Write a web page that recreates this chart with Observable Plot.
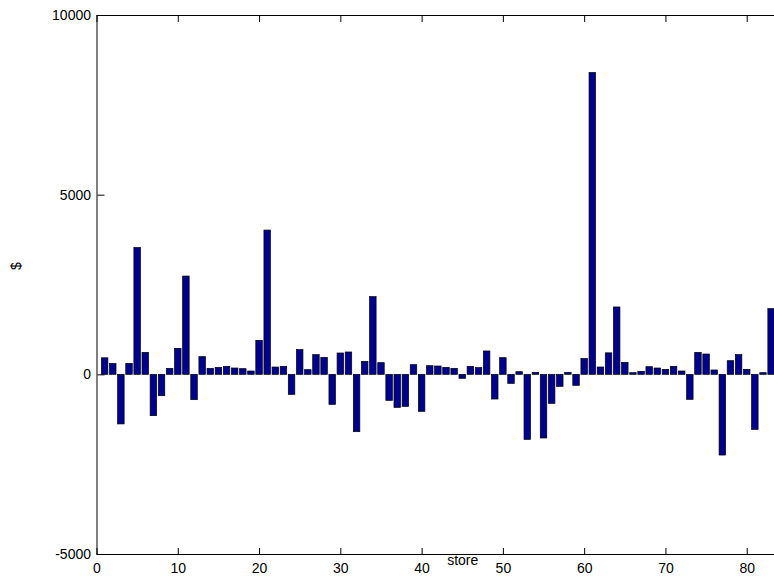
<!DOCTYPE html>
<html>
<head>
<meta charset="utf-8">
<script src="https://cdn.jsdelivr.net/npm/d3@7"></script>
<script src="https://cdn.jsdelivr.net/npm/@observablehq/plot@0.6"></script>
<style>
  html, body { margin: 0; padding: 0; background: #fff; overflow: hidden; width: 774px; height: 578px; }
  #chart svg { max-width: none !important; display: block; }
</style>
</head>
<body>
<div id="chart"></div>
<script>
// store index 1..83 and values in $
const stores = d3.range(1, 84);
const values = [
  460, 300, -1380, 305, 3530, 612, -1150, -595, 167, 724,
  2735, -705, 492, 167, 195, 223, 176, 158, 93, 947,
  4015, 204, 223, -557, 687, 130, 548, 473, -835, 594,
  622, -1596, 362, 2162, 325, -724, -919, -891, 269, -1030,
  241, 232, 195, 167, -111, 223, 186, 650, -687, 464,
  -251, 74, -1810, 56, -1772, -807, -334, 56, -306, 440,
  8400, 204, 598, 1875, 334, 46, 84, 213, 176, 139,
  223, 93, -696, 612, 566, 121, -2246, 380, 548, 139,
  -1531, 46, 1828
];
const xTicks = [0, 10, 20, 30, 40, 50, 60, 70, 80];
const yTicks = [-5000, 0, 5000, 10000];
const xLabel = "store";
const yLabel = "$";

const data = stores.map((s, i) => ({store: s, value: values[i]}));
const font = "'Liberation Sans', Arial, Helvetica, sans-serif";
const blank = () => "";

const chart = Plot.plot({
  width: 832,
  height: 578,
  marginLeft: 96.5,
  marginRight: 4,
  marginTop: 15,
  marginBottom: 24,
  style: {fontFamily: font, fontSize: "14px", color: "black", background: "white", maxWidth: "none"},
  x: {domain: [0, 90]},
  y: {domain: [-5000, 10000]},
  marks: [
    Plot.rectY(data, {
      x1: d => d.store - 0.4,
      x2: d => d.store + 0.4,
      y1: 0,
      y2: "value",
      fill: "#00008f",
      stroke: "#000",
      strokeWidth: 0.7
    }),
    Plot.frame({stroke: "black", strokeWidth: 1}),
    // inward tick marks on all four sides
    Plot.axisX(xTicks, {anchor: "top", frameAnchor: "bottom", tickSize: 7, tickFormat: blank, label: null}),
    Plot.axisX(xTicks, {anchor: "bottom", frameAnchor: "top", tickSize: 7, tickFormat: blank, label: null}),
    Plot.axisY(yTicks, {anchor: "right", frameAnchor: "left", tickSize: 7, tickFormat: blank, label: null}),
    Plot.axisY(yTicks, {anchor: "left", frameAnchor: "right", tickSize: 7, tickFormat: blank, label: null}),
    // tick labels
    Plot.axisX(xTicks, {anchor: "bottom", tickSize: 0, tickPadding: 9, label: null, fontSize: 14}),
    Plot.axisY(yTicks, {anchor: "left", tickSize: 0, tickPadding: 6, label: null, tickFormat: d => String(d), fontSize: 14}),
    Plot.text([xLabel], {frameAnchor: "bottom", dy: 10, lineAnchor: "bottom", fontSize: 14, fill: "black"}),
    Plot.text([yLabel], {frameAnchor: "left", dx: -80, dy: -15, rotate: -90, fontSize: 14, fill: "black"})
  ]
});
document.getElementById("chart").appendChild(chart);
</script>
</body>
</html>
